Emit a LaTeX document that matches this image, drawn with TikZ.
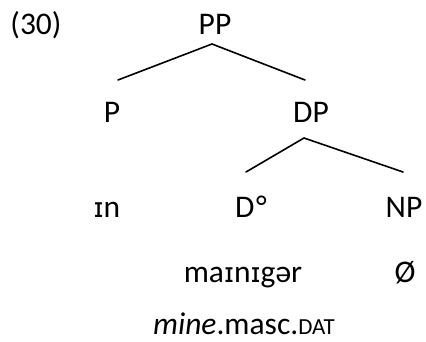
\documentclass[tikz,border=0pt]{standalone}
\usepackage{fontspec}
\setmainfont{Carlito}
\newfontfamily\ipafont{DejaVu Sans}
\newcommand{\smi}{{\ipafont\fontsize{27}{30}\selectfont ɪ}}
\begin{document}
\begin{tikzpicture}[x=1pt,y=-1pt,
  lbl/.style={anchor=base,inner sep=0pt,font=\fontsize{31.5}{36}\selectfont},
  branch/.style={line width=1.6pt,line cap=round}]
\useasboundingbox (0,0) rectangle (426,342);
% example number
\node[lbl] (num) at (36,35) {(30)};
% tree labels
\node[lbl] (pp) at (215,35) {PP};
\node[lbl] (p) at (112,123) {P};
\node[lbl] (dp) at (311,123) {DP};
\node[lbl] (in) at (107,218) {\smi n};
\node[lbl] (d) at (251,218) {D\kern0.05em°};
\node[lbl] (np) at (404,218) {NP};
\node[lbl] (word) at (243,282) {ma\smi n\smi gər};
\node[lbl] (null) at (405,282) {Ø};
\node[lbl] (gloss) at (244,334) {\textit{mine}.masc.{\fontsize{23}{23}\selectfont DAT}};
% branch points
\coordinate (ppb) at (212,44);
\coordinate (pt) at (118,80);
\coordinate (dpt) at (305,80);
\coordinate (dpb) at (304,138);
\coordinate (dt) at (246,172);
\coordinate (npt) at (403,172);
\draw[branch] (pt) -- (ppb) -- (dpt);
\draw[branch] (dt) -- (dpb) -- (npt);
\end{tikzpicture}
\end{document}
